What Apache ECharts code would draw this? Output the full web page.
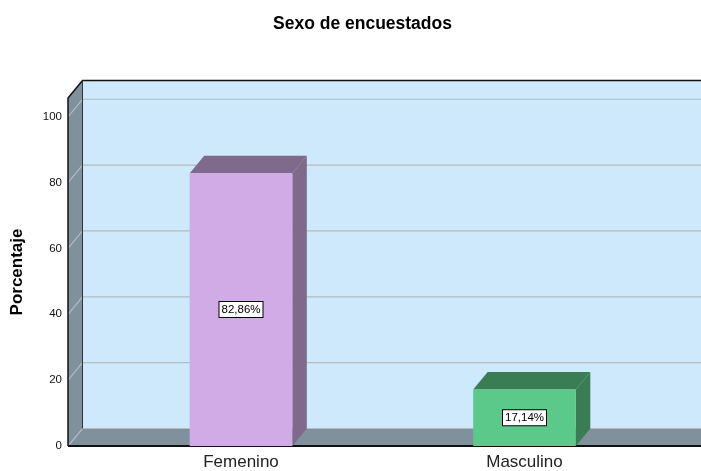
<!DOCTYPE html>
<html>
<head>
<meta charset="utf-8">
<script src="https://cdn.jsdelivr.net/npm/echarts@6/dist/echarts.min.js"></script>
<style>
html,body{margin:0;padding:0;background:#fff;}
#main{width:701px;height:471px;}
</style>
</head>
<body>
<div id="main"></div>
<script>
// data
const categories = ['Femenino', 'Masculino'];
const percentages = [82.86, 17.14];
const gridValues = [0, 20, 40, 60, 80, 100];

// styles
const faceColors = ['#d1abe6', '#5bc98a'];
const shadeColors = ['#7f6a8c', '#3a7d55'];
const wallColor = '#7e919c';
const backColor = '#cde9fb';
const gridColor = '#b3bbc1';

const depthX = 14.5;
const depthY = 17.5;
const frontLeft = 68;
const gridLeft = 99.25;

const chartDom = document.getElementById('main');
const myChart = echarts.init(chartDom);

function frameItem(params, api) {
  const cs = params.coordSys;
  const top = cs.y;
  const bottom = cs.y + cs.height;
  const right = 760;
  const bx = frontLeft + depthX;
  return {
    type: 'group',
    children: [
      { type: 'rect', shape: { x: bx, y: top - depthY, width: right - bx, height: cs.height },
        style: { fill: backColor } },
      { type: 'polygon', shape: { points: [[frontLeft, top], [bx, top - depthY], [bx, bottom - depthY], [frontLeft, bottom]] },
        style: { fill: wallColor } },
      { type: 'polygon', shape: { points: [[frontLeft, bottom], [bx, bottom - depthY], [right, bottom - depthY], [right, bottom]] },
        style: { fill: wallColor } }
    ]
  };
}

function edgeItem(params, api) {
  const cs = params.coordSys;
  const top = cs.y;
  const bottom = cs.y + cs.height;
  const right = 760;
  const bx = frontLeft + depthX;
  const black = { stroke: '#111', lineWidth: 1.5, fill: null };
  return {
    type: 'group',
    children: [
      { type: 'polyline', shape: { points: [[frontLeft, bottom], [frontLeft, top], [bx, top - depthY], [right, top - depthY]] }, style: black },
      { type: 'line', shape: { x1: bx, y1: top - depthY, x2: bx, y2: bottom - depthY }, style: { stroke: '#333', lineWidth: 1 } },
      { type: 'line', shape: { x1: frontLeft, y1: bottom, x2: right, y2: bottom }, style: { stroke: '#111', lineWidth: 2 } }
    ]
  };
}

function gridItem(params, api) {
  const y = api.coord([0, api.value(1)])[1];
  const bx = frontLeft + depthX;
  return {
    type: 'polyline',
    shape: { points: [[frontLeft, y], [bx, y - depthY], [760, y - depthY]] },
    style: { stroke: gridColor, lineWidth: 1.2, fill: null }
  };
}

function barItem(params, api) {
  const i = api.value(0);
  const val = api.value(1);
  const top = api.coord([i, val]);
  const base = api.coord([i, 0]);
  const w = api.size([1, 0])[0] * 0.362;
  const x0 = top[0] - w / 2;
  const x1 = top[0] + w / 2;
  const label = val.toFixed(2).replace('.', ',') + '%';
  return {
    type: 'group',
    children: [
      { type: 'polygon',
        shape: { points: [[x1, top[1]], [x1 + depthX, top[1] - depthY], [x1 + depthX, base[1] - depthY], [x1, base[1]]] },
        style: { fill: shadeColors[i] } },
      { type: 'polygon',
        shape: { points: [[x0, top[1]], [x0 + depthX, top[1] - depthY], [x1 + depthX, top[1] - depthY], [x1, top[1]]] },
        style: { fill: shadeColors[i] } },
      { type: 'rect',
        shape: { x: x0, y: top[1], width: w, height: base[1] - top[1] },
        style: { fill: faceColors[i] },
        textContent: {
          style: {
            text: label,
            fontFamily: 'Liberation Sans, Arial, sans-serif',
            fontSize: 11.5,
            fill: '#000',
            backgroundColor: '#fff',
            borderColor: '#000',
            borderWidth: 1,
            padding: [2, 2, 1, 2]
          }
        },
        textConfig: { position: 'inside' } }
    ]
  };
}

const option = {
  animation: false,
  textStyle: { fontFamily: 'Liberation Sans, Arial, sans-serif' },
  title: {
    text: 'Sexo de encuestados',
    left: 268,
    top: 10,
    textStyle: { fontSize: 17.5, fontWeight: 'bold', color: '#000' }
  },
  grid: {
    left: gridLeft,
    right: 701 - gridLeft - 567,
    top: 98,
    bottom: 25,
    outerBoundsMode: 'none',
    containLabel: false
  },
  xAxis: {
    type: 'category',
    data: categories,
    axisLine: { show: false },
    axisTick: { show: false },
    axisLabel: { fontSize: 17, color: '#222', margin: 8 }
  },
  yAxis: {
    type: 'value',
    min: 0,
    max: 105.7,
    interval: 20,
    offset: gridLeft - frontLeft,
    name: 'Porcentaje',
    nameLocation: 'middle',
    nameGap: 42,
    nameTextStyle: { fontSize: 17, fontWeight: 'bold', color: '#000' },
    axisLine: { show: false },
    axisTick: { show: false },
    splitLine: { show: false },
    axisLabel: {
      fontSize: 11.5,
      color: '#111',
      margin: 6,
      formatter: function (v) { return v % 20 === 0 ? String(v) : ''; }
    }
  },
  series: [
    { type: 'custom', z: 1, silent: true, data: [[0, 0]], renderItem: frameItem },
    { type: 'custom', z: 2, silent: true, data: gridValues.map(v => [0, v]), renderItem: gridItem },
    { type: 'custom', z: 3, silent: true, data: [[0, 0]], renderItem: edgeItem },
    { type: 'custom', z: 4, data: percentages.map((v, i) => [i, v]), renderItem: barItem }
  ]
};

myChart.setOption(option);
</script>
</body>
</html>
